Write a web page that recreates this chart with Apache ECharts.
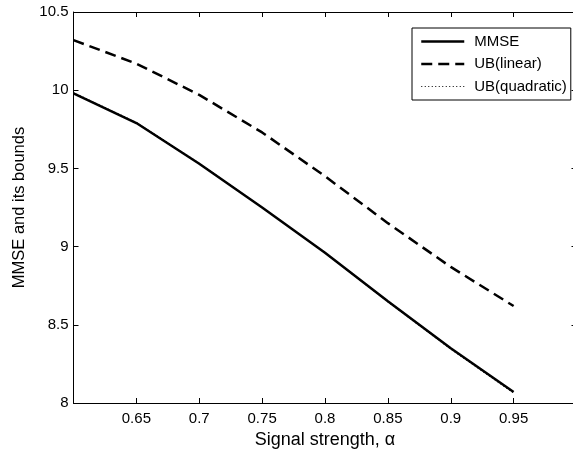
<!DOCTYPE html>
<html>
<head>
<meta charset="utf-8">
<script src="https://cdn.jsdelivr.net/npm/echarts@6/dist/echarts.min.js"></script>
<style>
  html, body { margin: 0; padding: 0; background: #fff; }
  #chart { width: 573px; height: 453px; }
</style>
</head>
<body>
<div id="chart"></div>
<script>
// Signal strength values (x) and the three curves
const alphas = [0.60, 0.65, 0.70, 0.75, 0.80, 0.85, 0.90, 0.95];
const mmse = [9.98, 9.79, 9.53, 9.25, 8.96, 8.65, 8.35, 8.07];
const ubLinear = [10.32, 10.17, 9.97, 9.73, 9.45, 9.15, 8.87, 8.62];
const ubQuadratic = [9.985, 9.795, 9.535, 9.252, 8.958, 8.645, 8.343, 8.062];
const seriesNames = ['MMSE', 'UB(linear)', 'UB(quadratic)'];

const FONT = 'Liberation Sans, Arial, Helvetica, sans-serif';
const pairs = ys => alphas.map((a, i) => [a, ys[i]]);

const chart = echarts.init(document.getElementById('chart'), null, { renderer: 'canvas' });

const axisLineStyle = { color: '#000', width: 1 };
const tick = { show: true, inside: true, length: 5, lineStyle: { color: '#000', width: 1 } };

// line styles shared by the plotted curves and their legend samples
const styleMmse = { color: '#000', width: 2.5, type: 'solid' };
const styleLinear = { color: '#000', width: 2.5, type: [11, 6] };
const styleQuad = { color: '#000', width: 1, type: [1, 2.5] };

chart.setOption({
  animation: false,
  backgroundColor: '#fff',
  grid: { left: 73.5, top: 12, width: 503, height: 391, containLabel: false, outerBoundsMode: 'none' },
  legend: {
    orient: 'vertical',
    left: 412,
    top: 28,
    width: 160,
    padding: [6, 4, 6, 8],
    itemWidth: 43,
    itemHeight: 14,
    itemGap: 7.5,
    borderColor: '#000',
    borderWidth: 1,
    backgroundColor: '#fff',
    itemStyle: { opacity: 0 },
    textStyle: { fontFamily: FONT, fontSize: 15, lineHeight: 14, color: '#000', padding: [0, 0, 0, 5] },
    data: [
      { name: seriesNames[0], lineStyle: styleMmse },
      { name: seriesNames[1], lineStyle: styleLinear },
      { name: seriesNames[2], lineStyle: styleQuad }
    ]
  },
  xAxis: [
    {
      type: 'value', min: 0.6, max: 1.0, interval: 0.05,
      name: 'Signal strength, \u03b1', nameLocation: 'middle', nameGap: 28,
      nameTextStyle: { fontFamily: FONT, fontSize: 18, color: '#000' },
      axisLine: { show: true, lineStyle: axisLineStyle },
      axisTick: tick,
      splitLine: { show: false },
      axisLabel: {
        fontFamily: FONT, fontSize: 15, color: '#000', margin: 8,
        formatter: v => (Math.abs(v - 0.6) < 1e-9 || Math.abs(v - 1) < 1e-9) ? '' : String(+v.toFixed(2))
      }
    },
    {
      type: 'value', position: 'top', min: 0.6, max: 1.0, interval: 0.05,
      axisLine: { show: true, lineStyle: axisLineStyle },
      axisTick: tick,
      axisLabel: { show: false },
      splitLine: { show: false }
    }
  ],
  yAxis: [
    {
      type: 'value', min: 8, max: 10.5, interval: 0.5,
      name: 'MMSE and its bounds', nameLocation: 'middle', nameGap: 44,
      nameTextStyle: { fontFamily: FONT, fontSize: 16.5, color: '#000' },
      axisLine: { show: true, lineStyle: axisLineStyle },
      axisTick: tick,
      splitLine: { show: false },
      axisLabel: { fontFamily: FONT, fontSize: 15, color: '#000', margin: 5 }
    },
    {
      type: 'value', position: 'right', min: 8, max: 10.5, interval: 0.5,
      axisLine: { show: true, lineStyle: axisLineStyle },
      axisTick: tick,
      axisLabel: { show: false },
      splitLine: { show: false }
    }
  ],
  series: [
    {
      name: seriesNames[2], type: 'line', data: pairs(ubQuadratic), symbol: 'none', z: 2,
      lineStyle: styleQuad, itemStyle: { color: '#000' }
    },
    {
      name: seriesNames[1], type: 'line', data: pairs(ubLinear), symbol: 'none', z: 3,
      lineStyle: styleLinear, itemStyle: { color: '#000' }
    },
    {
      name: seriesNames[0], type: 'line', data: pairs(mmse), symbol: 'none', z: 4,
      lineStyle: styleMmse, itemStyle: { color: '#000' }
    }
  ]
});
</script>
</body>
</html>
